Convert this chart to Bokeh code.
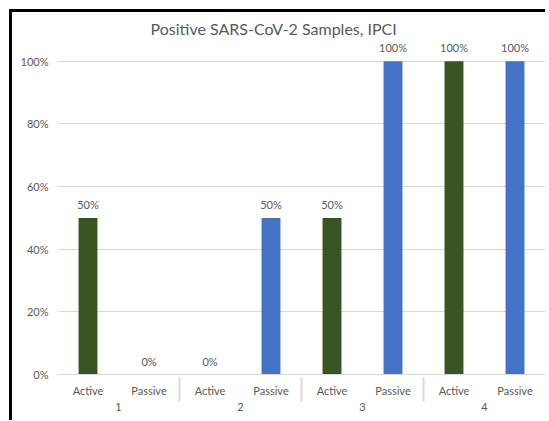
from bokeh.plotting import figure
from bokeh.models import (FactorRange, Range1d, ColumnDataSource, LabelSet,
                          NumeralTickFormatter, FixedTicker)
from bokeh.transform import factor_cmap
from bokeh.core.properties import value
from bokeh.embed import file_html
from bokeh.resources import INLINE

# ---- data ----
groups = ["1", "2", "3", "4"]
sample_types = ["Active", "Passive"]
active_values = [0.5, 0.0, 0.5, 1.0]
passive_values = [0.0, 0.5, 1.0, 1.0]
y_ticks = [0, 0.2, 0.4, 0.6, 0.8, 1.0]
title_text = "Positive SARS-CoV-2 Samples, IPCI"
bar_colors = ["#375623", "#4472C4"]

factors = []
values = []
for g, a, pv in zip(groups, active_values, passive_values):
    factors += [(g, "Active"), (g, "Passive")]
    values += [a, pv]
labels = [f"{round(v * 100)}%" for v in values]
source = ColumnDataSource(dict(x=factors, top=values, label=labels))

FONT = "Lato"
GRAY = "#595959"
LIGHT = "#d9d9d9"
FS = "11px"

p = figure(
    x_range=FactorRange(factors=factors, range_padding=0, group_padding=0, factor_padding=0),
    y_range=Range1d(0, 1.06),
    frame_width=488, frame_height=332,
    min_border_left=45, min_border_right=0, min_border_top=29, min_border_bottom=46,
    output_backend="svg", toolbar_location=None, title=title_text,
    styles={"margin-left": "9px", "margin-top": "9px",
            "border-left": "3px solid black", "border-top": "3px solid black"},
)

p.vbar(x="x", top="top", width=0.31, source=source,
       fill_color=factor_cmap("x", bar_colors, sample_types, start=1, end=2),
       line_color=None)

p.add_layout(LabelSet(x="x", y="top", text="label", source=source,
                      text_align="center", text_baseline="bottom", y_offset=7,
                      text_font=value(FONT), text_font_size=FS, text_color=GRAY))

# title
p.title.align = "left"
p.title.offset = 93
p.title.text_font = FONT
p.title.text_font_size = "16px"
p.title.text_font_style = "normal"
p.title.text_color = GRAY
p.title.standoff = 9

# y axis
p.yaxis.ticker = FixedTicker(ticks=y_ticks)
p.yaxis.formatter = NumeralTickFormatter(format="0%")
p.yaxis.axis_line_color = None
p.yaxis.major_tick_line_color = None
p.yaxis.minor_tick_line_color = None
p.yaxis.major_label_standoff = 3
p.yaxis.major_label_text_font = FONT
p.yaxis.major_label_text_font_size = FS
p.yaxis.major_label_text_color = GRAY

# grids
p.ygrid.grid_line_color = LIGHT
p.xgrid.grid_line_color = None
p.outline_line_color = None

# x axis
xa = p.xaxis[0]
xa.axis_line_color = LIGHT
xa.major_tick_line_color = None
xa.minor_tick_line_color = None
xa.separator_line_color = LIGHT
xa.major_label_standoff = 3
xa.major_label_text_font = FONT
xa.major_label_text_font_size = FS
xa.major_label_text_color = GRAY
xa.group_text_font = FONT
xa.group_text_font_size = FS
xa.group_text_font_style = "normal"
xa.group_text_color = GRAY

open("out.html", "w").write(file_html(p, INLINE))
